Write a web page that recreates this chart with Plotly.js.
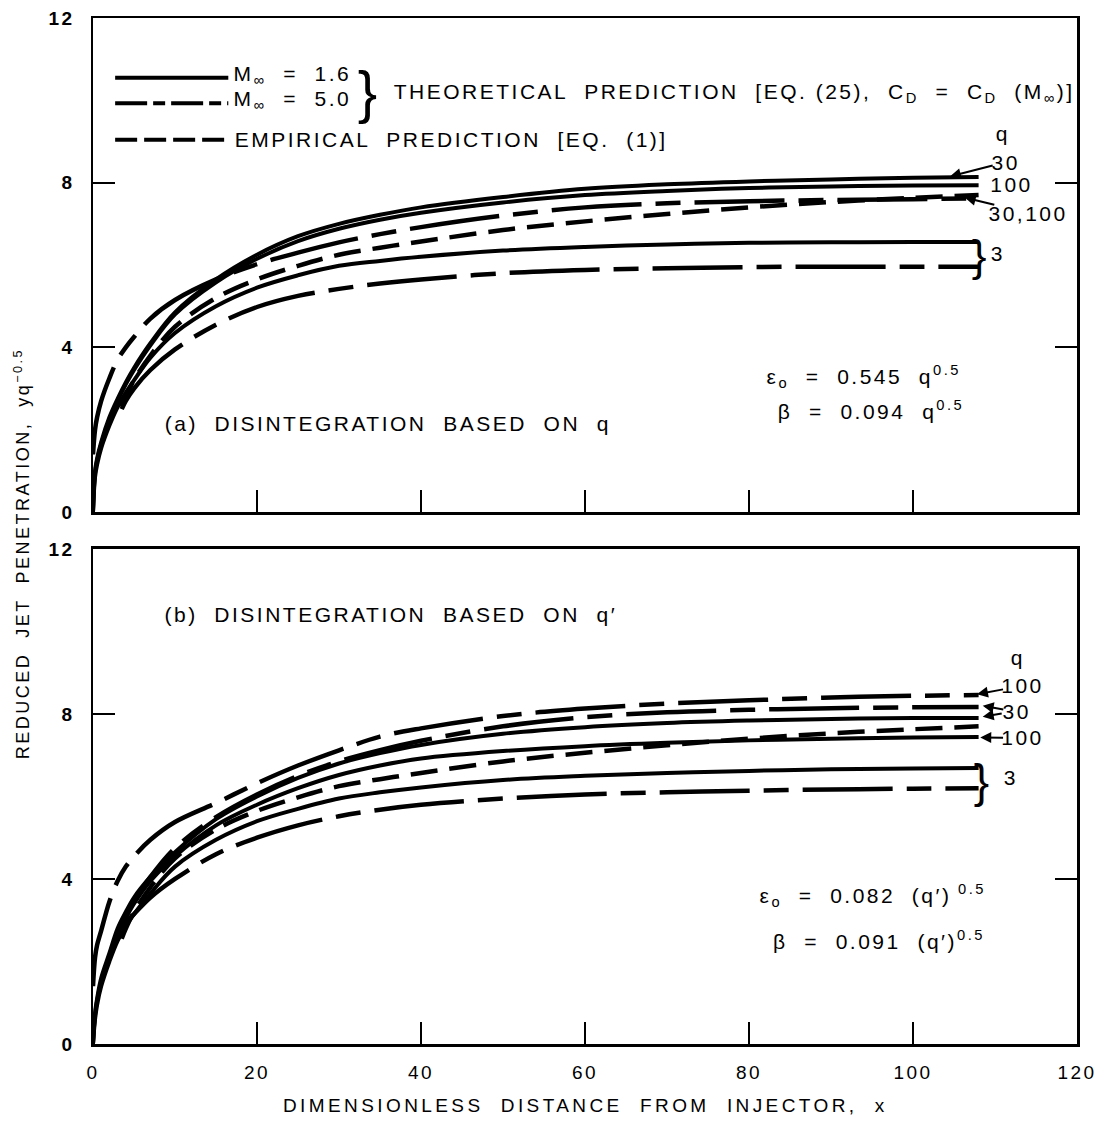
<!DOCTYPE html>
<html>
<head>
<meta charset="utf-8">
<script src="https://cdn.plot.ly/plotly-3.0.1.min.js"></script>
<style>
html,body{margin:0;padding:0;background:#fff;}
#chart text{letter-spacing:2.5px;}
</style>
</head>
<body>
<div id="chart" style="width:1102px;height:1122px;"></div>
<script>
// ---- data ----
const xFull = [0,0.25,0.5,1,2,3,4,5,7,10,15,20,25,30,35,40,50,60,70,80,90,100,108];
const xLate = [3.5,4,5,7,10,15,20,25,30,35,40,50,60,70,80,90,100,108];

// (a) disintegration based on q
const topM16_q30  = [0,1.0,1.3,1.7,2.3,2.75,3.15,3.5,4.1,4.85,5.65,6.25,6.7,7.0,7.22,7.4,7.65,7.85,7.96,8.03,8.08,8.12,8.14];
const topM16_q100 = [0,0.95,1.25,1.65,2.25,2.7,3.1,3.45,4.05,4.8,5.58,6.15,6.58,6.88,7.1,7.27,7.52,7.7,7.8,7.87,7.91,7.93,7.94];
const topM16_q3   = [0,0.85,1.15,1.55,2.1,2.55,2.9,3.2,3.75,4.35,5.0,5.45,5.75,5.98,6.1,6.2,6.35,6.44,6.5,6.54,6.55,6.56,6.56];
const topM5_q30_100 = [1.4,2.0,2.3,2.7,3.25,3.7,4.0,4.25,4.7,5.15,5.65,6.02,6.3,6.55,6.75,6.92,7.2,7.4,7.5,7.55,7.58,7.6,7.62];
const topM5_q3    = [2.5,2.7,3.0,3.45,3.95,4.55,4.98,5.25,5.42,5.55,5.65,5.8,5.88,5.92,5.95,5.96,5.96,5.96];
const empirical   = [2.55,2.8,3.2,3.8,4.5,5.2,5.65,5.98,6.25,6.42,6.57,6.85,7.06,7.24,7.4,7.53,7.63,7.7];

// (b) disintegration based on q'
const botM5_q100  = [1.4,2.1,2.4,2.75,3.45,3.95,4.3,4.55,4.95,5.38,5.84,6.32,6.75,7.12,7.45,7.65,7.95,8.13,8.25,8.33,8.4,8.44,8.46];
const botM5_q30   = [2.9,3.1,3.45,4.05,4.75,5.5,6.05,6.5,6.85,7.12,7.35,7.7,7.92,8.04,8.1,8.14,8.16,8.17];
const botM16_q30  = [0,0.75,1.1,1.6,2.2,2.8,3.2,3.55,4.05,4.65,5.45,6.0,6.45,6.8,7.05,7.25,7.52,7.68,7.78,7.84,7.88,7.9,7.9];
const botM16_q100 = [0,0.7,1.05,1.5,2.1,2.65,3.05,3.4,3.95,4.55,5.3,5.8,6.2,6.52,6.75,6.92,7.1,7.22,7.3,7.36,7.4,7.43,7.44];
const botM16_q3   = [0,0.6,0.95,1.4,2.0,2.5,2.85,3.15,3.65,4.3,4.95,5.4,5.7,5.95,6.1,6.22,6.4,6.5,6.57,6.62,6.66,6.68,6.69];
const botM5_q3    = [2.8,2.95,3.15,3.55,4.0,4.6,5.0,5.3,5.52,5.68,5.8,5.95,6.05,6.1,6.14,6.17,6.19,6.2];

const xTicks = [0,20,40,60,80,100,120];
const yTicks = [0,4,8,12];

// ---- styles ----
const FAM = 'Liberation Sans, Arial, Helvetica, sans-serif';
const SOLID = {color:'#000', width:4, shape:'spline', smoothing:1};
const M5 = {color:'#000', width:4.5, dash:'90px,14px,25px,14px', shape:'spline', smoothing:1};
const EMP = {color:'#000', width:4.5, dash:'27px,12px', shape:'spline', smoothing:1};

function tr(x, y, line, xa, ya, name){
  return {x:x, y:y, type:'scatter', mode:'lines', line:line, xaxis:xa, yaxis:ya, name:name, showlegend:false, hoverinfo:'skip'};
}

const data = [
  tr(xFull, topM16_q30, SOLID, 'x', 'y', 'M1.6 q30'),
  tr(xFull, topM16_q100, SOLID, 'x', 'y', 'M1.6 q100'),
  tr(xFull, topM16_q3, SOLID, 'x', 'y', 'M1.6 q3'),
  tr(xFull, topM5_q30_100, M5, 'x', 'y', 'M5 q30,100'),
  tr(xLate, topM5_q3, M5, 'x', 'y', 'M5 q3'),
  tr(xLate, empirical, EMP, 'x', 'y', 'empirical'),
  tr(xFull, botM5_q100, M5, 'x2', 'y2', 'M5 q100'),
  tr(xLate, botM5_q30, M5, 'x2', 'y2', 'M5 q30'),
  tr(xFull, botM16_q30, SOLID, 'x2', 'y2', 'M1.6 q30'),
  tr(xFull, botM16_q100, SOLID, 'x2', 'y2', 'M1.6 q100'),
  tr(xFull, botM16_q3, SOLID, 'x2', 'y2', 'M1.6 q3'),
  tr(xLate, botM5_q3, M5, 'x2', 'y2', 'M5 q3'),
  tr(xLate, empirical, EMP, 'x2', 'y2', 'empirical')
];

function xax(anchor, labels){
  return {range:[0,120], tickvals:xTicks, ticktext:xTicks.map(String), showticklabels:labels, anchor:anchor,
    ticks:'inside', ticklen:22, tickwidth:2, tickcolor:'#000', showline:true, linewidth:2.5, linecolor:'#000',
    mirror:true, showgrid:false, zeroline:false, ticklabelstandoff:10,
    tickfont:{family:FAM, size:19, color:'#000'}};
}
function yax(domain, anchor){
  return {range:[0,12], tickvals:yTicks, ticktext:yTicks.map(String), domain:domain, anchor:anchor,
    ticks:'inside', ticklen:22, tickwidth:2, tickcolor:'#000', showline:true, linewidth:2.5, linecolor:'#000',
    mirror:'ticks', showgrid:false, zeroline:false, ticklabelstandoff:12,
    tickfont:{family:FAM, size:19, color:'#000', weight:'bold'}};
}

function txt(x, y, text, xref, yref, opts){
  return Object.assign({x:x, y:y, xref:xref, yref:yref, text:text, showarrow:false,
    font:{family:FAM, size:21, color:'#000'}, xanchor:'center', yanchor:'middle'}, opts||{});
}
function arrowLbl(x, y, tx, ty, text, xref, yref){
  return {x:x, y:y, ax:tx, ay:ty, xref:xref, yref:yref, axref:xref, ayref:yref, text:text,
    showarrow:true, arrowhead:2, arrowsize:1.1, arrowwidth:2, arrowcolor:'#000', standoff:0,
    font:{family:FAM, size:21, color:'#000'}};
}

const annotations = [
  // legend (top panel)
  txt(24.3, 10.62, 'M<sub>∞</sub>  =  1.6', 'x', 'y'),
  txt(24.3, 10.0, 'M<sub>∞</sub>  =  5.0', 'x', 'y'),
  txt(33.6, 10.22, '}', 'x', 'y', {font:{family:FAM, size:58, color:'#000'}}),
  txt(78.2, 10.18, 'THEORETICAL  PREDICTION  [EQ. (25),  C<sub>D</sub>  =  C<sub>D</sub>  (M<sub>∞</sub>)]', 'x', 'y'),
  txt(43.6, 9.04, 'EMPIRICAL  PREDICTION  [EQ.  (1)]', 'x', 'y'),
  // panel (a) texts
  txt(36.0, 2.16, '(a)  DISINTEGRATION  BASED  ON  q', 'x', 'y'),
  txt(94.0, 3.28, 'ε<sub>o</sub>  =  0.545  q<sup>0.5</sup>', 'x', 'y'),
  txt(94.9, 2.48, 'β  =  0.094  q<sup>0.5</sup>', 'x', 'y'),
  // right labels (a)
  txt(111.0, 9.2, 'q', 'x', 'y'),
  arrowLbl(104.5, 8.15, 111.3, 8.5, '30', 'x', 'y'),
  txt(112.0, 7.95, '100', 'x', 'y'),
  arrowLbl(106.3, 7.64, 114.0, 7.26, '30,100', 'x', 'y'),
  txt(108.2, 6.24, '}', 'x', 'y', {font:{family:FAM, size:44, color:'#000'}}),
  txt(110.4, 6.29, '3', 'x', 'y'),
  // panel (b) texts
  txt(36.4, 10.42, '(b)  DISINTEGRATION  BASED  ON  q′', 'x2', 'y2'),
  txt(95.0, 3.61, 'ε<sub>o</sub>  =  0.082  (q′)<sup> 0.5</sup>', 'x2', 'y2'),
  txt(95.9, 2.52, 'β  =  0.091  (q′)<sup>0.5</sup>', 'x2', 'y2'),
  // right labels (b)
  txt(112.8, 9.38, 'q', 'x2', 'y2'),
  arrowLbl(107.8, 8.48, 113.3, 8.68, '100', 'x2', 'y2'),
  arrowLbl(108.5, 8.2, 112.6, 8.05, '30', 'x2', 'y2'),
  arrowLbl(108.5, 7.93, 111.0, 8.02, '', 'x2', 'y2'),
  arrowLbl(108.2, 7.43, 113.3, 7.42, '100', 'x2', 'y2'),
  txt(108.5, 6.38, '}', 'x2', 'y2', {font:{family:FAM, size:46, color:'#000'}}),
  txt(112.0, 6.47, '3', 'x2', 'y2'),
  // axis titles
  txt(0.5, -0.06, '<span style="letter-spacing:3.4px">DIMENSIONLESS  DISTANCE  FROM  INJECTOR,  x</span>', 'paper', 'paper',
      {font:{family:FAM, size:19, color:'#000'}}),
  txt(-0.072, 0.478, 'REDUCED  JET  PENETRATION,  yq<sup>−0.5</sup>', 'paper', 'paper',
      {textangle:-90, font:{family:FAM, size:18, color:'#000'}})
];

const shapes = [
  {type:'line', xref:'x', yref:'y', x0:2.7, x1:16.5, y0:10.55, y1:10.55, line:{color:'#000', width:4}},
  {type:'line', xref:'x', yref:'y', x0:2.7, x1:16.5, y0:9.93, y1:9.93, line:{color:'#000', width:4, dash:'32px,6px,12px,6px'}},
  {type:'line', xref:'x', yref:'y', x0:2.7, x1:16.5, y0:9.04, y1:9.04, line:{color:'#000', width:4, dash:'22px,7px'}}
];

const layout = {
  width:1102, height:1122,
  margin:{l:93, r:25, t:18, b:78},
  paper_bgcolor:'#fff', plot_bgcolor:'#fff',
  showlegend:false,
  xaxis: xax('y', false),
  yaxis: yax([0.5185,1], 'x'),
  xaxis2: xax('y2', true),
  yaxis2: yax([0,0.4825], 'x2'),
  annotations: annotations,
  shapes: shapes
};

Plotly.newPlot('chart', data, layout, {staticPlot:true, displayModeBar:false});
</script>
</body>
</html>
